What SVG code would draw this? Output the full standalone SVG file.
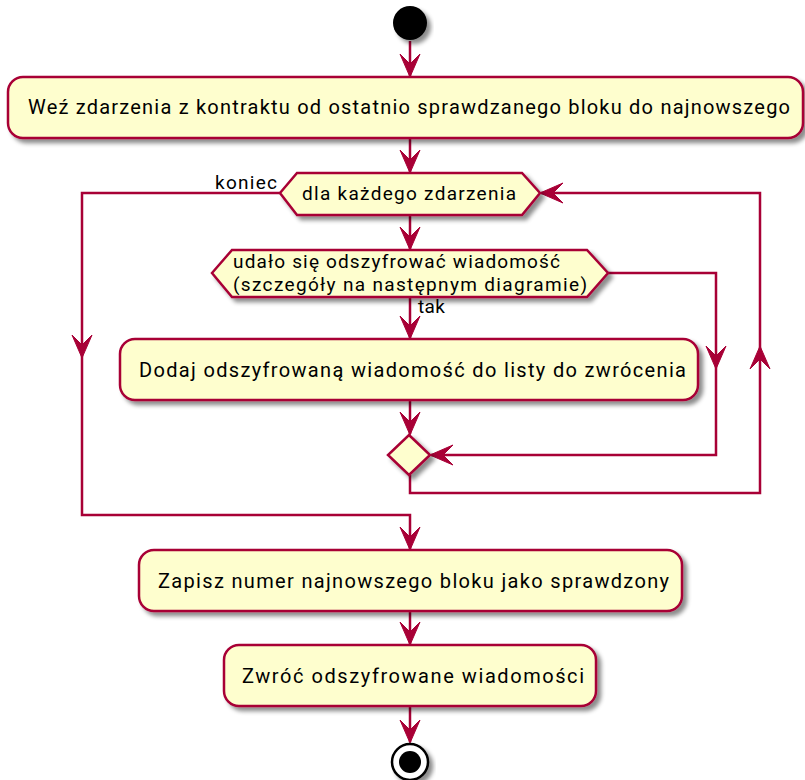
<svg xmlns="http://www.w3.org/2000/svg" width="805" height="780" viewBox="0 0 805 780">
  <style>
    .box { fill: #FEFECE; stroke: #A80036; stroke-width: 2.5; }
    .line { fill: none; stroke: #A80036; stroke-width: 2.5; }
    .head { fill: #A80036; stroke: #A80036; stroke-width: 1; }
    text { font-family: Roboto, "Liberation Sans", sans-serif; font-size: 19px; fill: #000; }
    .big { font-size: 20px; }
  </style>
  <defs>
    <filter id="shadow" x="-10%" y="-10%" width="130%" height="140%">
      <feGaussianBlur in="SourceAlpha" stdDeviation="2"/>
      <feOffset dx="4" dy="4" result="blur"/>
      <feColorMatrix in="blur" type="matrix" values="0 0 0 0 0  0 0 0 0 0  0 0 0 0 0  0 0 0 0.45 0" result="sh"/>
      <feMerge>
        <feMergeNode in="sh"/>
        <feMergeNode in="SourceGraphic"/>
      </feMerge>
    </filter>
    <!-- arrowhead pointing down, tip at origin -->
    <path id="ah" class="head" d="M0,0 L-10,-23 L0,-13 L10,-23 Z"/>
  </defs>

  <!-- connectors -->
  <g id="connectors">
    <path class="line" d="M410,41 V76"/>
    <use href="#ah" transform="translate(410,77)"/>

    <path class="line" d="M410,138 V172"/>
    <use href="#ah" transform="translate(410,173)"/>

    <path class="line" d="M410,215 V249"/>
    <use href="#ah" transform="translate(410,250)"/>

    <path class="line" d="M410,297 V338"/>
    <use href="#ah" transform="translate(410,339)"/>
    <text x="418" y="313" textLength="27" lengthAdjust="spacing">tak</text>

    <path class="line" d="M410,400 V434"/>
    <use href="#ah" transform="translate(410,435)"/>

    <!-- not decrypted: skip to merge -->
    <path class="line" d="M608,273 H716 V455 H431"/>
    <use href="#ah" transform="translate(716,369)"/>
    <use href="#ah" transform="translate(430,455) rotate(90)"/>

    <!-- loop back -->
    <path class="line" d="M410,475 V493 H760 V193 H541"/>
    <use href="#ah" transform="translate(760,346) rotate(180)"/>
    <use href="#ah" transform="translate(540,193) rotate(90)"/>

    <!-- loop exit -->
    <path class="line" d="M280,193 H82 V515 H410 V549"/>
    <text x="215" y="189" textLength="62" lengthAdjust="spacing">koniec</text>
    <use href="#ah" transform="translate(82,358)"/>
    <use href="#ah" transform="translate(410,550)"/>

    <path class="line" d="M410,611 V644"/>
    <use href="#ah" transform="translate(410,645)"/>

    <path class="line" d="M410,706 V742"/>
    <use href="#ah" transform="translate(410,743)"/>
  </g>

  <g id="start">
    <circle cx="410" cy="23" r="17" fill="#000" filter="url(#shadow)"/>
  </g>

  <g id="fetch-events">
    <rect class="box" x="8" y="77" width="795" height="61" rx="15" filter="url(#shadow)"/>
    <text class="big" x="28" y="114" textLength="762" lengthAdjust="spacing">Weź zdarzenia z kontraktu od ostatnio sprawdzanego bloku do najnowszego</text>
  </g>

  <g id="for-each">
    <polygon class="box" points="280,193 297,173 522,173 540,193 522,215 297,215" filter="url(#shadow)"/>
    <text x="302" y="200" textLength="214" lengthAdjust="spacing">dla każdego zdarzenia</text>
  </g>

  <g id="decrypt-check">
    <polygon class="box" points="212,273 232,250 587,250 608,273 587,297 232,297" filter="url(#shadow)"/>
    <text x="233" y="268" textLength="327" lengthAdjust="spacing">udało się odszyfrować wiadomość</text>
    <text x="233" y="291" textLength="354" lengthAdjust="spacing">(szczegóły na następnym diagramie)</text>
  </g>

  <g id="add-message">
    <rect class="box" x="120" y="339" width="578" height="61" rx="15" filter="url(#shadow)"/>
    <text class="big" x="139" y="377" textLength="547" lengthAdjust="spacing">Dodaj odszyfrowaną wiadomość do listy do zwrócenia</text>
  </g>

  <g id="merge">
    <polygon class="box" points="409,435 430,455 409,475 388,455" filter="url(#shadow)"/>
  </g>

  <g id="save-block">
    <rect class="box" x="139" y="550" width="543" height="61" rx="15" filter="url(#shadow)"/>
    <text class="big" x="158" y="588" textLength="511" lengthAdjust="spacing">Zapisz numer najnowszego bloku jako sprawdzony</text>
  </g>

  <g id="return-messages">
    <rect class="box" x="224" y="645" width="372" height="61" rx="15" filter="url(#shadow)"/>
    <text class="big" x="242" y="683" textLength="342" lengthAdjust="spacing">Zwróć odszyfrowane wiadomości</text>
  </g>

  <g id="end">
    <circle cx="410" cy="762" r="18" fill="#fff" stroke="#000" stroke-width="2.5" filter="url(#shadow)"/>
    <circle cx="410" cy="762" r="11" fill="#000"/>
  </g>
</svg>
